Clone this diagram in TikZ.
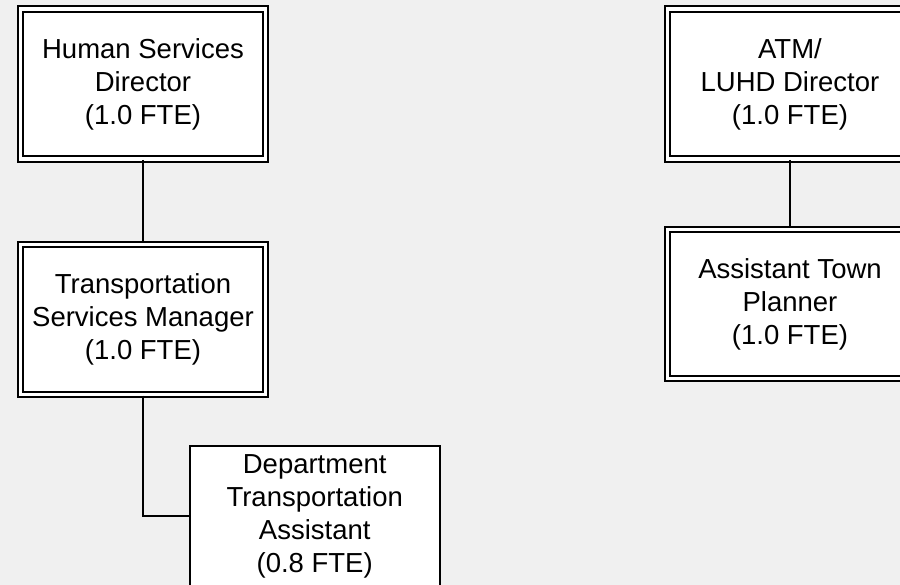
\documentclass[tikz,border=0pt]{standalone}
\usepackage{fontspec}
\setmainfont{Liberation Sans}
\definecolor{pagebg}{HTML}{F0F0F0}
\begin{document}
\begin{tikzpicture}[x=1pt,y=-1pt,
  post/.style={rectangle, fill=white, align=center, inner sep=0pt,
    font=\fontsize{27.5}{33}\selectfont},
  dblpost/.style={post, draw, line width=2pt, double=white,
    double distance=3.8pt, minimum width=245pt, minimum height=150pt},
  sglpost/.style={post, draw, line width=2pt,
    minimum width=250pt, minimum height=140pt},
  link/.style={draw, line width=2pt}]
  % canvas
  \fill[pagebg] (0,0) rectangle (900,585);
  \useasboundingbox (0,0) rectangle (900,585);
  \begin{scope}
    \clip (0,0) rectangle (900,585);
    % left branch
    \node[dblpost] (hsd) at (143,84) {Human Services\\Director\\(1.0 FTE)};
    \node[dblpost] (tsm) at (143,319.5) {Transportation\\Services Manager\\(1.0 FTE)};
    \node[sglpost] (dta) at (314.7,516) {Department\\Transportation\\Assistant\\(0.8 FTE)};
    % right branch
    \node[dblpost] (atm) at (790,84) {ATM/\\LUHD Director\\(1.0 FTE)};
    \node[dblpost, minimum height=149pt] (atp) at (790,304) {Assistant Town\\Planner\\(1.0 FTE)};
    % reporting lines
    \draw[link] (hsd.south) -- (tsm.north);
    \draw[link] (tsm.south) |- (dta.west);
    \draw[link] (atm.south) -- (atp.north);
  \end{scope}
\end{tikzpicture}
\end{document}
